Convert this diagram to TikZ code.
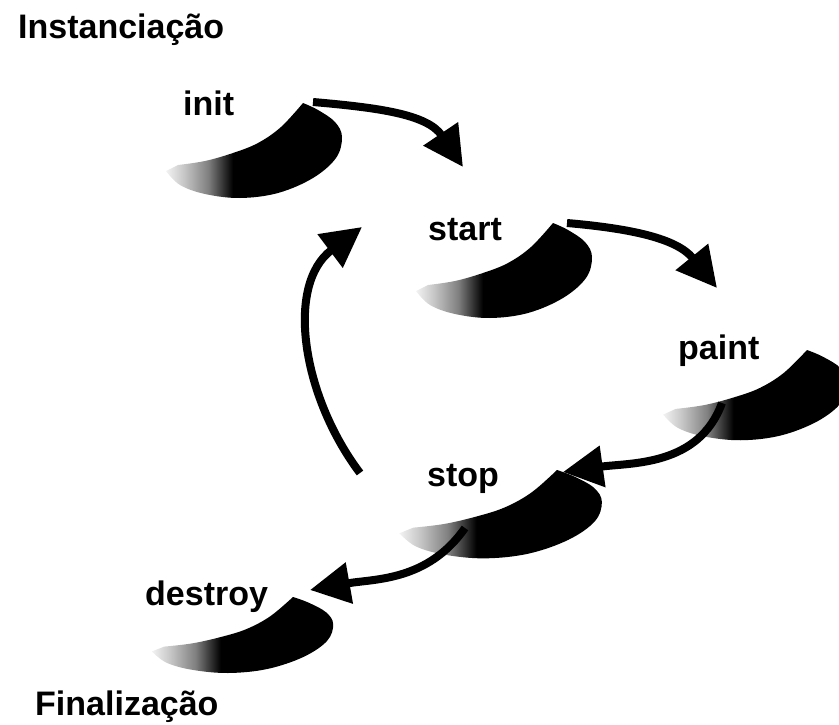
\documentclass[tikz,border=0pt]{standalone}
\usepackage{fontspec}
\setmainfont{Liberation Sans}
\usetikzlibrary{arrows.meta}

% dark swoosh under each step: pale at the left tail, black towards the right
\pgfdeclarehorizontalshading{swooshshade}{100bp}{%
  color(0bp)=(black!5); color(25bp)=(black!5); color(30bp)=(black!22);
  color(37bp)=(black!50); color(44bp)=(black); color(100bp)=(black)}

\tikzset{
  % crescent shadow; the origin is its upper right tip
  swoosh/.pic={
    \shade[shading=swooshshade]
      plot[smooth, tension=0.6] coordinates {(0,0) (15,-7) (32,-19) (39,-34)
        (33,-55) (10,-75) (-25,-90) (-63,-95) (-98,-91) (-123,-82) (-137,-68)}
      -- plot[smooth, tension=0.6] coordinates {(-125,-62) (-98,-58) (-70,-50)
        (-45,-40) (-22,-24) (0,0)} -- cycle;
  },
  steptext/.style={font=\fontsize{34}{40}\selectfont\bfseries,
                   inner sep=0pt, anchor=base west},
  cyclearrow/.style={line width=8pt, -{Triangle[length=40pt,width=40pt]}}
}

\begin{document}
\begin{tikzpicture}[x=1pt,y=1pt]
\useasboundingbox (0,0) rectangle (839,-725);
\clip (0,0) rectangle (839,-725);

% crescent shadows of the five steps
\pic at (303,-103) {swoosh};
\pic at (553,-223) {swoosh};
\pic[xscale=1.05,yscale=0.95] at (807,-350) {swoosh};
\pic[xscale=1.15,yscale=0.93] at (557,-470) {swoosh};
\pic[xscale=1.03,yscale=0.8] at (293,-597) {swoosh};

% headings and step names
\node[steptext] (inst) at (18,-39) {Instanciação};
\node[steptext] (init) at (183,-115) {init};
\node[steptext] (start) at (428,-240) {start};
\node[steptext] (paint) at (678,-359) {paint};
\node[steptext] (stop) at (427,-486) {stop};
\node[steptext] (destroy) at (145,-605) {destroy};
\node[steptext] (fin) at (35,-715) {Finalização};

% arrow ends on the crescents
\coordinate (init-out)   at (313,-102);
\coordinate (start-in)   at (463,-167);
\coordinate (start-out)  at (567,-223);
\coordinate (paint-in)   at (717,-288);
\coordinate (paint-out)  at (722,-403);
\coordinate (stop-in)    at (563,-472);
\coordinate (stop-down)  at (465,-528);
\coordinate (destroy-in) at (310,-590);
\coordinate (stop-back)  at (360,-473);
\coordinate (start-back) at (362,-227);

% life-cycle arrows
\draw[cyclearrow] (init-out)  to[out=-5,in=124]  (start-in);
\draw[cyclearrow] (start-out) to[out=-5,in=129]  (paint-in);
\draw[cyclearrow] (paint-out) to[out=250,in=8]   (stop-in);
\draw[cyclearrow] (stop-down) to[out=235,in=10]  (destroy-in);
\draw[cyclearrow] (stop-back) to[out=127,in=217] (start-back);
\end{tikzpicture}
\end{document}
